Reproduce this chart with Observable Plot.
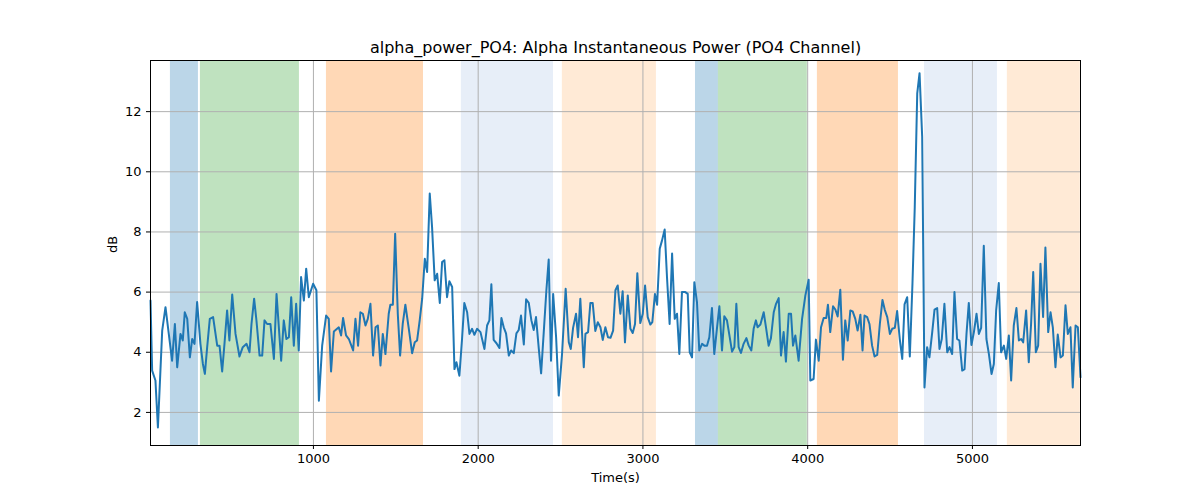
<!DOCTYPE html>
<html><head><meta charset="utf-8">
<script src="https://cdn.jsdelivr.net/npm/d3@7"></script>
<script src="https://cdn.jsdelivr.net/npm/@observablehq/plot@0.6"></script>
<style>body{margin:0;background:#fff;font-family:"DejaVu Sans",sans-serif}</style>
</head><body><div id="c"></div>
<script>
const title = "alpha_power_PO4: Alpha Instantaneous Power (PO4 Channel)";
const xLabel = "Time(s)";
const yLabel = "dB";
const xTicks = [1000, 2000, 3000, 4000, 5000];
const yTicks = [2, 4, 6, 8, 10, 12];
const spanStart = [132, 314, 1079, 1898, 2511, 3319, 3458, 4059, 4709, 5212];
const spanEnd = [302, 915, 1668, 2457, 3082, 3458, 3998, 4551, 5152, 5655];
const spanColor = ["#1f77b4", "#2ca02c", "#ff7f0e", "#aec7e8", "#ffbb78", "#1f77b4", "#2ca02c", "#ff7f0e", "#aec7e8", "#ffbb78"];
const times = [11,21,41,56,82,102,122,142,159,173,193,207,219,234,250,264,278,294,314,329,341,355,371,391,416,430,446,460,476,490,507,527,551,571,594,612,624,640,654,673,689,703,719,739,760,776,804,820,836,851,865,881,895,911,925,942,956,972,998,1018,1033,1053,1077,1093,1107,1124,1154,1168,1180,1198,1215,1241,1255,1271,1285,1300,1316,1330,1346,1362,1377,1391,1407,1421,1437,
1457,1467,1482,1496,1512,1526,1542,1558,1579,1599,1615,1629,1645,1660,1676,1690,1706,1720,1736,1751,1767,1781,1795,1811,1825,1842,1856,1868,1886,1902,1916,1933,1947,1963,1977,1993,2014,2038,2054,2068,2080,2094,2111,2129,2141,2155,2169,2186,2200,2216,2232,2246,2260,2277,2291,2307,2323,2337,2351,2368,2382,2398,2414,2428,2442,2455,2473,2489,2509,2531,2550,2562,2576,2594,2606,2620,2641,2651,2667,2681,2695,2711,2726,2742,2756,2772,2788,2803,2819,2833,2847,2863,
2877,2891,2908,2924,2938,2952,2966,2984,2999,3013,3029,3045,3057,3073,3086,3102,3116,3132,3146,3162,3177,3193,3207,3221,3237,3257,3272,3284,3298,3312,3328,3342,3359,3373,3389,3403,3419,3433,3450,3464,3480,3494,3510,3525,3541,3555,3567,3581,3595,3611,3628,3642,3658,3672,3686,3696,3713,3733,3747,3763,3777,3794,3808,3824,3838,3854,3868,3885,3899,3911,3925,3945,3966,3986,4006,4016,4036,4050,4067,4081,4097,4113,4123,4137,4154,4168,4182,4198,4214,4228,4243,4259,4273,4289,4303,4320,
4333,4345,4361,4375,4391,4406,4422,4438,4454,4468,4483,4499,4513,4529,4543,4559,4574,4588,4604,4620,4636,4650,4665,4679,4695,4709,4725,4739,4756,4770,4786,4800,4814,4830,4847,4861,4877,4891,4907,4921,4938,4952,4964,4978,4994,5009,5025,5039,5053,5069,5085,5100,5116,5130,5144,5160,5174,5191,5205,5221,5235,5251,5267,5282,5296,5308,5326,5342,5356,5369,5385,5399,5413,5429,5443,5460,5474,5488,5504,5518,5535,5549,5565,5579,5595,5609,5626,5640,5656];
const values = [5.72,3.39,3.06,1.5,4.72,5.5,4.61,3.72,4.94,3.5,4.61,4.39,5.33,5.11,3.83,4.44,4.28,5.67,4.28,3.61,3.28,4.17,5.11,5.17,4.22,4.22,3.36,4.28,5.39,4.39,5.92,4.61,3.86,4.17,4.28,4.0,4.94,5.78,5.06,3.89,3.89,5.06,4.94,4.94,3.78,5.94,3.72,5.06,4.44,4.5,5.83,4.22,5.61,4.06,6.5,5.72,6.78,5.83,6.28,6.06,2.39,4.22,5.22,5.11,3.36,4.69,4.83,4.56,5.14,4.56,4.44,4.06,5.11,4.22,5.33,5.28,4.89,5.11,5.61,3.89,4.83,4.89,3.56,4.61,3.94,
5.28,5.58,5.58,7.94,5.28,3.89,4.94,5.58,4.78,3.97,4.33,4.39,5.06,5.78,7.11,6.67,9.28,8.17,6.39,6.61,5.64,7.0,7.06,5.83,6.36,6.17,3.44,3.67,3.22,4.44,5.64,5.33,4.61,4.78,4.58,4.78,4.67,4.11,4.89,5.06,6.26,4.41,4.3,4.14,5.14,4.83,4.63,3.89,4.06,3.97,4.63,4.74,5.22,4.26,5.76,5.64,5.06,4.74,5.17,4.11,3.3,4.67,6.06,7.08,3.72,5.94,4.5,2.56,3.94,6.11,4.33,4.11,4.81,5.28,4.5,5.78,3.5,4.61,4.67,5.64,5.64,4.71,5.0,4.83,4.41,4.83,4.5,4.48,4.72,6.06,6.22,5.28,
6.03,4.33,5.89,4.78,4.64,4.94,6.63,4.97,5.28,6.22,5.17,4.92,5.0,5.94,5.58,7.44,7.72,8.08,6.5,4.94,7.28,5.11,5.28,3.94,6.0,6.0,5.94,4.0,3.83,6.33,5.67,4.06,4.28,4.22,4.22,4.5,5.47,3.94,4.83,5.53,4.06,5.2,5.06,4.56,4.02,4.17,5.61,4.17,3.98,4.28,4.47,4.22,4.06,4.78,5.06,4.83,4.92,5.33,4.83,4.22,4.47,5.33,5.61,5.8,3.89,4.67,3.69,5.28,5.28,4.22,4.56,3.72,5.11,5.89,6.41,3.06,3.11,4.42,3.72,4.83,5.14,5.14,5.58,4.67,5.53,5.42,5.19,6.08,3.75,5.06,4.39,5.39,5.36,5.11,4.72,5.25,
4.06,5.22,5.17,4.94,4.22,3.86,3.91,4.94,5.74,5.41,5.17,4.61,4.78,4.81,5.37,4.44,3.78,5.59,5.83,3.86,6.28,8.83,12.61,13.28,11.17,2.83,4.17,3.83,4.67,5.42,5.47,4.11,4.44,5.61,4.0,4.17,3.94,6.0,4.44,4.39,3.39,3.44,4.61,5.64,4.24,4.67,5.28,4.61,4.81,7.54,4.44,3.94,3.28,3.61,5.39,6.3,4.0,4.22,3.78,4.56,3.06,4.89,5.47,4.39,4.44,4.33,5.39,3.67,4.94,6.67,4.0,4.22,6.94,5.17,7.48,4.67,5.33,4.83,3.5,4.59,3.83,3.89,5.56,4.61,4.83,2.83,4.89,4.83,3.17];

const pts = times.map((t, i) => ({t, v: values[i]}));
const spans = spanStart.map((s, i) => ({s, e: spanEnd[i], c: spanColor[i]}));
const font = "DejaVu Sans, sans-serif";

const chart = Plot.plot({
  width: 1200, height: 500,
  marginLeft: 150, marginRight: 120, marginTop: 60, marginBottom: 55,
  style: {fontFamily: font, fontSize: "13px", background: "#fff"},
  x: {domain: [11, 5656], ticks: xTicks, tickSize: 4, tickFormat: d => String(d), label: null},
  y: {domain: [0.9, 13.7], ticks: yTicks, tickSize: 4, label: null},
  marks: [
    Plot.rectX(spans, {x1: "s", x2: "e", fill: "c", fillOpacity: 0.3}),
    Plot.gridX(xTicks, {stroke: "#b0b0b0", strokeOpacity: 1, strokeWidth: 1}),
    Plot.gridY(yTicks, {stroke: "#b0b0b0", strokeOpacity: 1, strokeWidth: 1}),
    Plot.line(pts, {x: "t", y: "v", stroke: "#1f77b4", strokeWidth: 2}),
    Plot.frame({stroke: "#000", strokeWidth: 1}),
    Plot.axisX({ticks: xTicks, tickSize: 4, tickFormat: d => String(d), fontSize: 13, label: null, tickPadding: 4}),
    Plot.axisY({ticks: yTicks, tickSize: 4, fontSize: 13, label: null}),
    Plot.text([title], {frameAnchor: "top", dy: -19, fontSize: 16, fill: "#000", textAnchor: "middle"}),
    Plot.text([xLabel], {frameAnchor: "bottom", dy: 36, fontSize: 13, fill: "#000"}),
    Plot.text([yLabel], {frameAnchor: "left", dx: -38, rotate: -90, fontSize: 13, fill: "#000"})
  ]
});
document.getElementById("c").appendChild(chart);
</script></body></html>
